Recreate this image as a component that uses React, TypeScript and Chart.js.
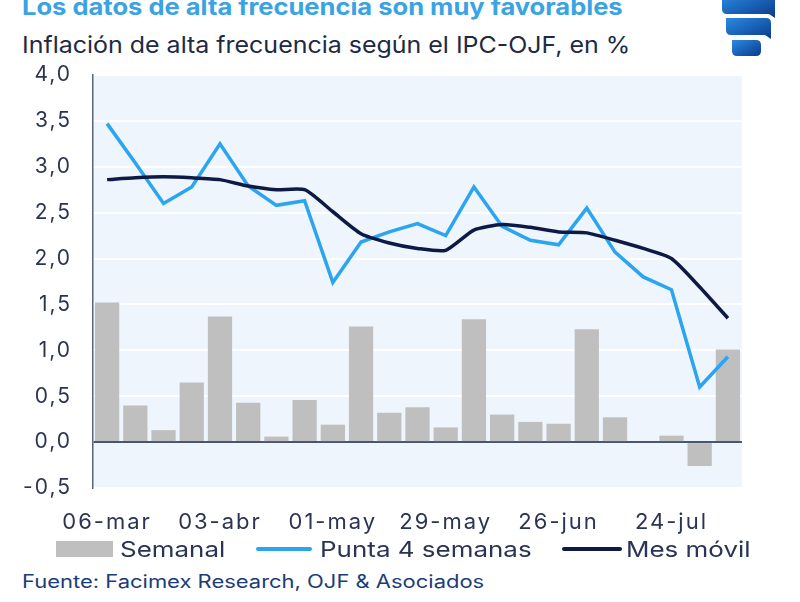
import React, { useEffect, useRef } from "react";
import { Chart, registerables } from "chart.js";

Chart.register(...registerables);

const weeks = [
  "06-mar", "13-mar", "20-mar", "27-mar", "03-abr", "10-abr", "17-abr", "24-abr",
  "01-may", "08-may", "15-may", "22-may", "29-may", "05-jun", "12-jun", "19-jun",
  "26-jun", "03-jul", "10-jul", "17-jul", "24-jul", "31-jul", "07-ago",
];

const semanal = [
  1.52, 0.4, 0.13, 0.65, 1.37, 0.43, 0.06, 0.46, 0.19, 1.26, 0.32, 0.38,
  0.16, 1.34, 0.3, 0.22, 0.2, 1.23, 0.27, 0, 0.07, -0.26, 1.01,
];

const punta4 = [
  3.47, 3.04, 2.6, 2.78, 3.25, 2.79, 2.58, 2.63, 1.74, 2.18, 2.29, 2.38,
  2.25, 2.78, 2.35, 2.2, 2.15, 2.55, 2.07, 1.8, 1.66, 0.6, 0.93,
];

const mesMovil = [
  2.86, 2.88, 2.89, 2.88, 2.86, 2.79, 2.75, 2.75, 2.51, 2.27, 2.17, 2.11,
  2.09, 2.31, 2.37, 2.34, 2.29, 2.28, 2.2, 2.11, 2.0, 1.69, 1.35,
];

const yMin = -0.5;
const yMax = 4.0;
const yStep = 0.5;
const labelEvery = 4;

const FONT = "Inter, 'DejaVu Sans', sans-serif";
const TEXT = "#2b3553";
const GRAY = "#bfbfbf";
const LIGHT = "#2ba5f0";
const NAVY = "#0e1a45";

const plotBg = {
  id: "plotBg",
  beforeLayout(chart: any) {
    chart.ctx.letterSpacing = "2px";
  },
  beforeDraw(chart: any) {
    const { ctx, chartArea } = chart;
    ctx.letterSpacing = "2px";
    if (!chartArea) return;
    ctx.save();
    ctx.fillStyle = "#eef5fc";
    ctx.fillRect(chartArea.left, chartArea.top, chartArea.right - chartArea.left, chartArea.bottom - chartArea.top);
    ctx.restore();
  },
};

function ChartBox() {
  const ref = useRef<HTMLCanvasElement | null>(null);
  useEffect(() => {
    if (!ref.current) return;
    const chart = new Chart(ref.current, {
      type: "bar",
      data: {
        labels: weeks,
        datasets: [
          {
            type: "bar",
            label: "Semanal",
            data: semanal,
            backgroundColor: GRAY,
            borderWidth: 0,
            categoryPercentage: 1,
            barPercentage: 0.86,
            order: 3,
          } as any,
          {
            type: "line",
            label: "Punta 4 semanas",
            data: punta4,
            borderColor: LIGHT,
            backgroundColor: LIGHT,
            borderWidth: 3.5,
            pointRadius: 0,
            tension: 0,
            order: 2,
          },
          {
            type: "line",
            label: "Mes móvil",
            data: mesMovil,
            borderColor: NAVY,
            backgroundColor: NAVY,
            borderWidth: 3.5,
            pointRadius: 0,
            tension: 0.2,
            order: 1,
          },
        ],
      },
      options: {
        animation: false,
        responsive: false,
        maintainAspectRatio: false,
        layout: { padding: { left: 0, top: 75, right: 58, bottom: 0 } },
        plugins: {
          legend: { display: false },
          tooltip: { enabled: false },
        },
        scales: {
          x: {
            grid: { display: false },
            border: { display: false },
            ticks: {
              autoSkip: false,
              maxRotation: 0,
              minRotation: 0,
              padding: 13,
              color: TEXT,
              font: { family: FONT, size: 22 },
              callback: (_v: any, i: number) => (i % labelEvery === 0 ? weeks[i] : ""),
            },
            afterFit: (s: any) => {
              s.height = 52;
            },
          },
          y: {
            min: yMin,
            max: yMax,
            ticks: {
              stepSize: yStep,
              padding: 21,
              color: TEXT,
              font: { family: FONT, size: 21 },
              callback: (v: any) => Number(v).toFixed(1).replace(".", ","),
            },
            grid: {
              drawTicks: false,
              color: (c: any) => (c.tick && Math.abs(c.tick.value) < 1e-9 ? "#4a5670" : "#ffffff"),
              lineWidth: 2,
            },
            border: { display: true, color: "#5b6478", width: 1.5 },
            afterFit: (s: any) => {
              s.width = 93;
            },
          },
        },
      },
      plugins: [plotBg],
    });
    return () => chart.destroy();
  }, []);
  return (
    <canvas
      ref={ref}
      width={800}
      height={540}
      style={{ position: "absolute", left: 0, top: 0, width: 800, height: 540 }}
    />
  );
}

function Logo() {
  return (
    <svg width={70} height={60} viewBox="0 0 70 60" style={{ position: "absolute", left: 712, top: 0 }}>
      <defs>
        <linearGradient id="lg" x1="0" y1="0" x2="1" y2="1">
          <stop offset="0" stopColor="#2a8ae2" />
          <stop offset="1" stopColor="#0b3a8c" />
        </linearGradient>
      </defs>
      <path d="M10 -6 H59 Q63 -6 63 -2 V18 L57 14 H15 Q10 14 10 9 Z" fill="url(#lg)" />
      <path d="M14 18 H54 Q59 18 59 23 V39 L53 35 H19 Q14 35 14 30 Z" fill="url(#lg)" />
      <path d="M20 40 H44 Q49 40 49 45 V51 Q49 56 44 56 H25 Q20 56 20 51 Z" fill="url(#lg)" />
    </svg>
  );
}

function Wide({ k, children }: { k: number; children: React.ReactNode }) {
  return (
    <span style={{ display: "inline-block", transform: `scaleX(${k})`, transformOrigin: "left center" }}>
      {children}
    </span>
  );
}

export default function App() {
  const legendText: React.CSSProperties = {
    position: "absolute",
    top: 535,
    fontFamily: FONT,
    fontSize: 22,
    color: TEXT,
    lineHeight: "28px",
    whiteSpace: "nowrap",
  };
  return (
    <div
      style={{
        position: "fixed",
        left: 0,
        top: 0,
        width: 800,
        height: 602,
        background: "#ffffff",
        overflow: "hidden",
        fontFamily: FONT,
      }}
    >
      <div
        style={{
          position: "absolute",
          left: 22,
          top: -8,
          fontSize: 23,
          fontWeight: 700,
          color: "#3aa3e3",
          whiteSpace: "nowrap",
          lineHeight: "30px",
        }}
      >
        <Wide k={1.11}>Los datos de alta frecuencia son muy favorables</Wide>
      </div>
      <div
        style={{
          position: "absolute",
          left: 22,
          top: 30,
          fontSize: 23,
          color: "#1e2a44",
          whiteSpace: "nowrap",
          lineHeight: "30px",
        }}
      >
        <Wide k={1.085}>Inflación de alta frecuencia según el IPC-OJF, en %</Wide>
      </div>
      <Logo />
      <ChartBox />
      <div style={{ position: "absolute", left: 56, top: 541, width: 57, height: 16, background: GRAY }} />
      <div style={{ ...legendText, left: 120 }}>
        <Wide k={1.18}>Semanal</Wide>
      </div>
      <div style={{ position: "absolute", left: 256, top: 547, width: 56, height: 4, background: LIGHT, borderRadius: 2 }} />
      <div style={{ ...legendText, left: 320 }}>
        <Wide k={1.18}>Punta 4 semanas</Wide>
      </div>
      <div style={{ position: "absolute", left: 562, top: 547, width: 60, height: 4, background: NAVY, borderRadius: 2 }} />
      <div style={{ ...legendText, left: 626 }}>
        <Wide k={1.18}>Mes móvil</Wide>
      </div>
      <div
        style={{
          position: "absolute",
          left: 22,
          top: 569,
          fontSize: 18,
          color: "#1a3d7a",
          whiteSpace: "nowrap",
          lineHeight: "26px",
        }}
      >
        <Wide k={1.22}>Fuente: Facimex Research, OJF &amp; Asociados</Wide>
      </div>
    </div>
  );
}
